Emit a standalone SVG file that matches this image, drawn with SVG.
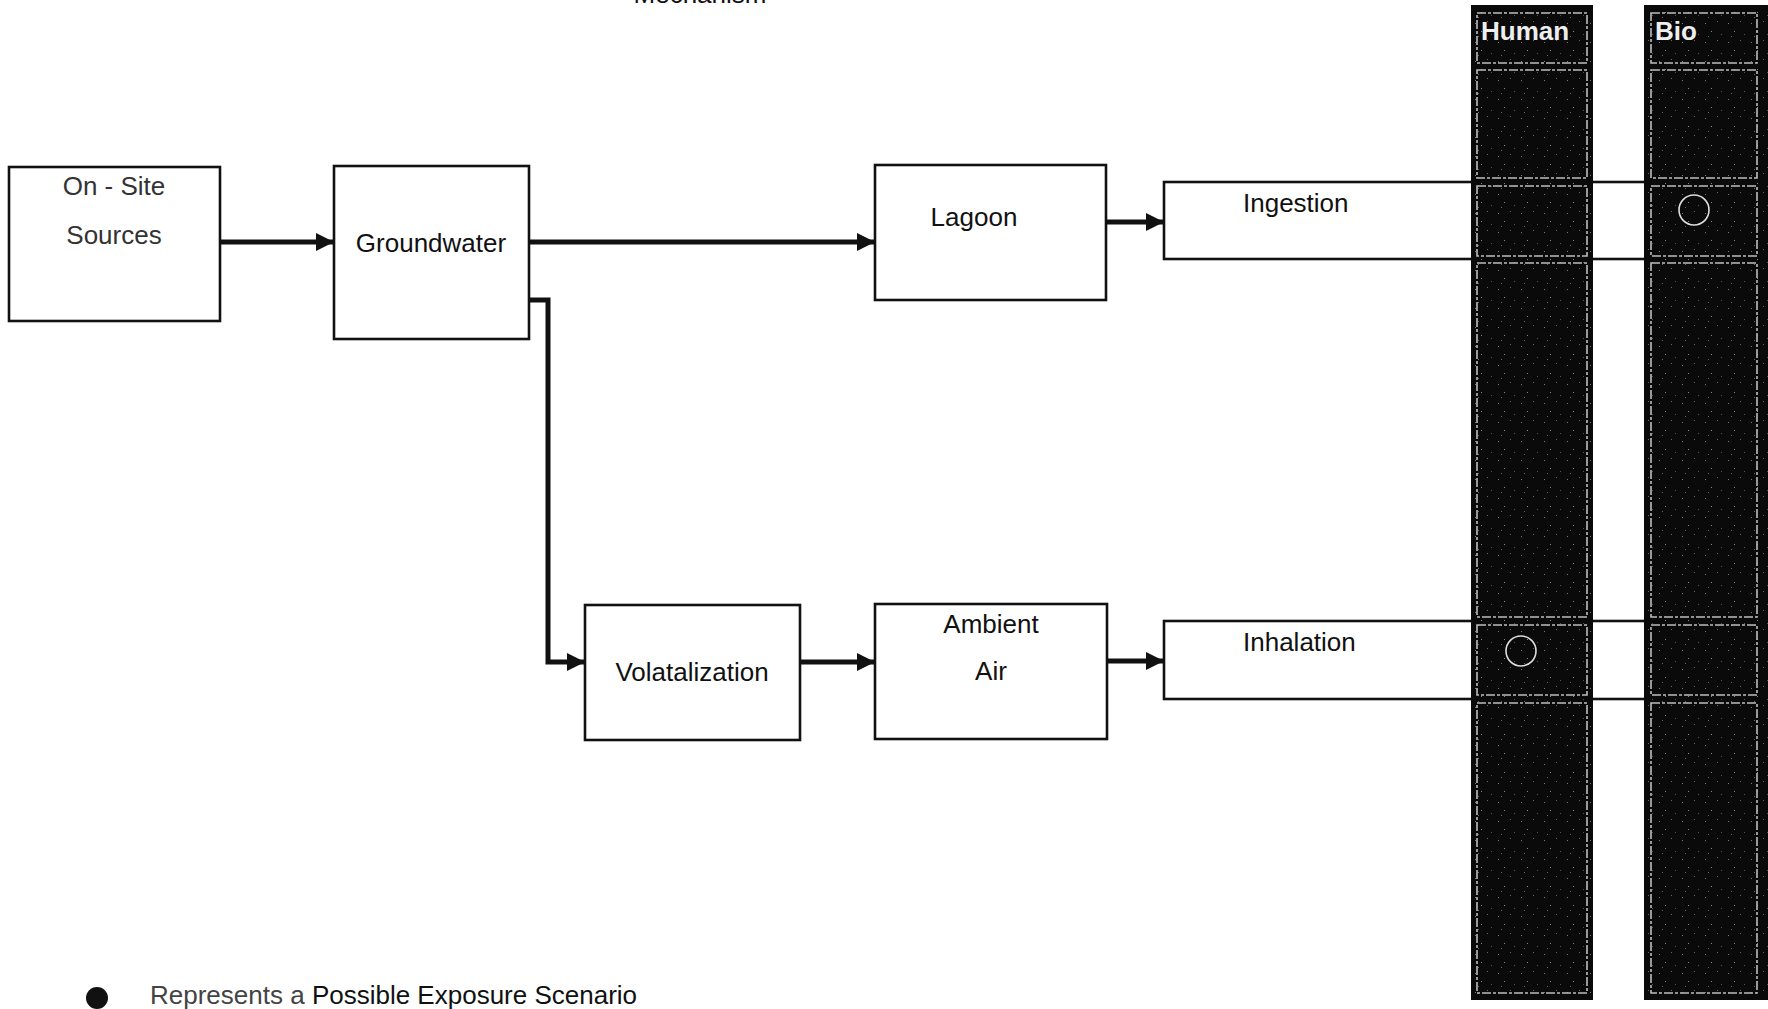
<svg xmlns="http://www.w3.org/2000/svg" width="1768" height="1009" viewBox="0 0 1768 1009">
<style>
.box{fill:#fff;stroke:#111;stroke-width:2.6}
.lbl{font-family:"Liberation Sans",Arial,sans-serif;font-size:26px;fill:#111}
.light{fill:#333}
.conn{fill:none;stroke:#111;stroke-width:5}
.col{fill:url(#speck)}
.cell{fill:none;stroke:#bdbdbd;stroke-width:1.6;stroke-dasharray:9 2 3 2}
.hdr{font-family:"Liberation Sans",Arial,sans-serif;font-size:26px;font-weight:bold;fill:#eee}
.ring{fill:none;stroke:#ddd;stroke-width:1.6}
</style>
<defs>
<marker id="arr" viewBox="0 0 10 10" refX="10" refY="5" markerWidth="3.6" markerHeight="3.6" markerUnits="strokeWidth" orient="auto">
<path d="M0,0 L10,5 L0,10 z" fill="#111"/>
</marker>
<pattern id="speck" width="23" height="19" patternUnits="userSpaceOnUse">
<rect width="23" height="19" fill="#0a0a0a"/>
<rect x="3" y="4" width="1" height="1" fill="#777"/>
<rect x="15" y="2" width="1" height="1" fill="#666"/>
<rect x="9" y="12" width="1" height="1" fill="#888"/>
<rect x="19" y="15" width="1" height="1" fill="#555"/>
<rect x="6" y="17" width="1" height="1" fill="#666"/>
</pattern>
</defs>
<rect width="1768" height="1009" fill="#fff"/>

<text class="lbl" x="700" y="3" text-anchor="middle">Mechanism</text>

<g id="connectors">
<line class="conn" x1="220" y1="242" x2="334" y2="242" marker-end="url(#arr)"/>
<line class="conn" x1="529" y1="242" x2="875" y2="242" marker-end="url(#arr)"/>
<line class="conn" x1="1106" y1="222" x2="1164" y2="222" marker-end="url(#arr)"/>
<path class="conn" d="M529,300 H548 V662 H585" marker-end="url(#arr)"/>
<line class="conn" x1="800" y1="662" x2="875" y2="662" marker-end="url(#arr)"/>
<line class="conn" x1="1107" y1="661" x2="1164" y2="661" marker-end="url(#arr)"/>
</g>

<g id="on-site-sources">
<rect class="box" x="9" y="167" width="211" height="154"/>
<text class="lbl light" x="114" y="195" text-anchor="middle">On - Site</text>
<text class="lbl light" x="114" y="244" text-anchor="middle">Sources</text>
</g>
<g id="groundwater">
<rect class="box" x="334" y="166" width="195" height="173"/>
<text class="lbl" x="431" y="252" text-anchor="middle">Groundwater</text>
</g>
<g id="lagoon">
<rect class="box" x="875" y="165" width="231" height="135"/>
<text class="lbl" x="974" y="226" text-anchor="middle">Lagoon</text>
</g>
<g id="volatalization">
<rect class="box" x="585" y="605" width="215" height="135"/>
<text class="lbl" x="692" y="681" text-anchor="middle">Volatalization</text>
</g>
<g id="ambient-air">
<rect class="box" x="875" y="604" width="232" height="135"/>
<text class="lbl" x="991" y="633" text-anchor="middle">Ambient</text>
<text class="lbl" x="991" y="680" text-anchor="middle">Air</text>
</g>
<g id="ingestion">
<rect class="box" x="1164" y="182" width="550" height="77"/>
<text class="lbl" x="1243" y="212">Ingestion</text>
</g>
<g id="inhalation">
<rect class="box" x="1164" y="621" width="550" height="78"/>
<text class="lbl" x="1243" y="651">Inhalation</text>
</g>

<g id="human-column">
<rect class="col" x="1471" y="5" width="122" height="995"/>
<rect class="cell" x="1477" y="13" width="110" height="50"/>
<rect class="cell" x="1477" y="70" width="110" height="108"/>
<rect class="cell" x="1477" y="186" width="110" height="70"/>
<rect class="cell" x="1477" y="263" width="110" height="354"/>
<rect class="cell" x="1477" y="625" width="110" height="70"/>
<rect class="cell" x="1477" y="703" width="110" height="290"/>
<text class="hdr" x="1481" y="40">Human</text>
<circle class="ring" cx="1521" cy="651" r="15"/>
</g>
<g id="bio-column">
<rect class="col" x="1644" y="5" width="124" height="995"/>
<rect class="cell" x="1651" y="13" width="106" height="50"/>
<rect class="cell" x="1651" y="70" width="106" height="108"/>
<rect class="cell" x="1651" y="186" width="106" height="70"/>
<rect class="cell" x="1651" y="263" width="106" height="354"/>
<rect class="cell" x="1651" y="625" width="106" height="70"/>
<rect class="cell" x="1651" y="703" width="106" height="290"/>
<text class="hdr" x="1655" y="40">Bio</text>
<circle class="ring" cx="1694" cy="210" r="15"/>
</g>

<g id="legend">
<circle cx="97" cy="998" r="11" fill="#111"/>
<text x="150" y="1004" font-family="'Liberation Sans',Arial,sans-serif" font-size="26" fill="#444">Represents a <tspan fill="#111">Possible Exposure Scenario</tspan></text>
</g>
</svg>
